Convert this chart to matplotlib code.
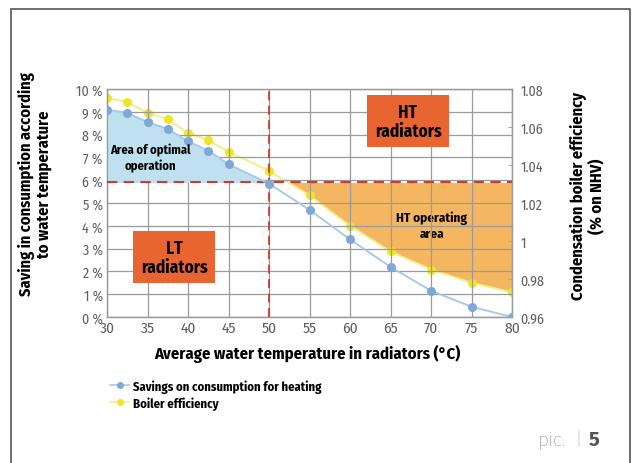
import matplotlib
matplotlib.use("Agg")
import matplotlib.pyplot as plt
from matplotlib.patches import Rectangle
from matplotlib.lines import Line2D
import numpy as np

plt.rcParams['font.family'] = ['Fira Sans Condensed', 'DejaVu Sans']

# data
temp = [30, 32.5, 35, 37.5, 40, 42.5, 45, 50, 55, 60, 65, 70, 75, 80]
saving = [9.1, 8.95, 8.55, 8.25, 7.7, 7.3, 6.7, 5.85, 4.7, 3.4, 2.2, 1.15, 0.45, 0.0]
efficiency = [1.0755, 1.073, 1.0675, 1.064, 1.057, 1.053, 1.047, 1.037,
              1.024, 1.008, 0.9945, 0.985, 0.978, 0.973]
limit_saving = 5.9      # horizontal dashed line, in %
limit_temp = 50         # vertical dashed line
x_ticks = [30, 35, 40, 45, 50, 55, 60, 65, 70, 75, 80]
left_ticks = list(range(0, 11))
left_labels = ["%d %%" % v for v in left_ticks]
right_ticks = [0.96, 0.98, 1.00, 1.02, 1.04, 1.06, 1.08]
right_labels = ["0.96", "0.98", "1", "1.02", "1.04", "1.06", "1.08"]

W, H = 632, 464
fig = plt.figure(figsize=(W / 100, H / 100), dpi=100)

# outer frame (open at the bottom)
fig.add_artist(Rectangle((11 / W, -0.05), 619 / W, 1.05 - 10 / H,
                         transform=fig.transFigure, fill=False,
                         edgecolor='#555555', linewidth=1.2))

ax = fig.add_axes([107 / W, 1 - 318 / H, 405 / W, 228 / H])
ax2 = ax.twinx()
ax.set_zorder(ax2.get_zorder() + 1)
ax.patch.set_visible(False)

x = np.array(temp, dtype=float)
s = np.array(saving)
e = np.array(efficiency)

ax.set_xlim(30, 80)
ax.set_ylim(0, 10)
ax2.set_ylim(0.96, 1.08)
lim_eff = 0.96 + limit_saving * 0.012

# grid
ax.set_xticks(x_ticks)
ax.set_yticks(left_ticks)
ax.grid(True, color='#9a9a9a', linewidth=0.9)
ax.set_axisbelow(True)

# filled areas
ax.fill_between(x, s, limit_saving, where=(x <= limit_temp) & (s >= limit_saving - 0.1),
                interpolate=True, color='#bfe0ee', zorder=1, linewidth=0)
ax2.fill_between(x, e, lim_eff, where=(x >= limit_temp) & (e <= lim_eff),
                 interpolate=True, color='#f4b660', zorder=1, linewidth=0)

# dashed limits
ax.axhline(limit_saving, color='#d33a2c', linestyle=(0, (5, 3)), linewidth=1.5, zorder=3)
ax.axvline(limit_temp, color='#d33a2c', linestyle=(0, (5, 3)), linewidth=1.3, zorder=3)

# series
ax2.plot(x, e, color='#f3ee8c', linewidth=1.4, zorder=4)
ax2.plot(x, e, 'o', color='#ece62a', markersize=5.5, zorder=5)
ax.plot(x, s, color='#a9c9e8', linewidth=1.4, zorder=4)
ax.plot(x, s, 'o', color='#7ea9d6', markersize=5.5, zorder=5)

# ticks and labels
ax.tick_params(axis='both', labelsize=10, labelcolor='#5f5f5f', length=0, pad=3)
ax.set_yticklabels(left_labels)
ax.set_xticklabels([str(t) for t in x_ticks], fontsize=11)
ax2.set_yticks(right_ticks)
ax2.set_yticklabels(right_labels)
ax2.tick_params(axis='y', labelsize=10, labelcolor='#5f5f5f', length=3, direction='in',
                color='#aaaaaa', pad=6)
for a in (ax, ax2):
    for sp in a.spines.values():
        sp.set_color('#9a9a9a')
        sp.set_linewidth(0.9)

ax.set_ylabel("Saving in consumption according\nto water temperature",
              fontsize=11.8, fontweight='bold', linespacing=1.05)
ax.yaxis.set_label_coords(-0.136, 0.588)
ax2.set_ylabel("Condensation boiler efficiency\n(% on NHV)",
               fontsize=11.8, fontweight='bold', linespacing=1.05)
ax2.yaxis.set_label_coords(1.143, 0.535)
ax.set_xlabel("Average water temperature in radiators (°C)",
              fontsize=12, fontweight='bold')
ax.xaxis.set_label_coords(0.494, -0.118)

# annotations
ax.text(35.4, 7.0, "Area of optimal\noperation", fontsize=9, fontweight='bold',
        ha='center', va='center', linespacing=1.3, zorder=6)
ax2.text(70.1, 1.0085, "HT operating\narea", fontsize=9.5, fontweight='bold',
         ha='center', va='center', linespacing=1.35, zorder=6)

box_kw = dict(boxstyle='square,pad=0.42', facecolor='#e86431', edgecolor='none')
ax.text(38.27, 2.63, "LT\nradiators", fontsize=12.5, fontweight='bold', ha='center',
        va='center', linespacing=1.1, bbox=box_kw, zorder=7)
ax.text(67.16, 8.6, "HT\nradiators", fontsize=12.5, fontweight='bold', ha='center',
        va='center', linespacing=1.1, bbox=box_kw, zorder=7)

# legend
handles = [
    Line2D([], [], color='#a9c9e8', marker='o', markerfacecolor='#7ea9d6',
           markeredgecolor='#7ea9d6', markersize=4, linewidth=1.2),
    Line2D([], [], color='#f3ee8c', marker='o', markerfacecolor='#ece62a',
           markeredgecolor='#ece62a', markersize=4, linewidth=1.2),
]
fig.legend(handles, ["Savings on consumption for heating", "Boiler efficiency"],
           loc='upper left', bbox_to_anchor=(105 / W, 1 - 375 / H), frameon=False,
           prop={'weight': 'bold', 'size': 9.1}, handlelength=1.5, handletextpad=0.35,
           labelspacing=0.3, borderaxespad=0)

# page marker
fig.text(566 / W, 1 - 440 / H, "pic.", fontsize=14, color='#6a6a6a', ha='right',
         va='center', family=['Fira Sans', 'DejaVu Sans'], fontweight='light')
fig.text(578 / W, 1 - 440 / H, "|", fontsize=14, color='#999999', ha='center',
         va='center', family=['Fira Sans', 'DejaVu Sans'], fontweight='light')
fig.text(589 / W, 1 - 440 / H, "5", fontsize=14.5, color='#555555', ha='left',
         va='center', family=['Fira Sans', 'DejaVu Sans'], fontweight='bold')

fig.savefig("out.png", dpi=100)
